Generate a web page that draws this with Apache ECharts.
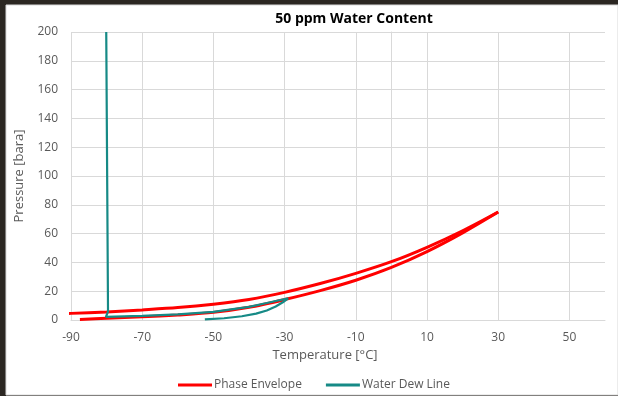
<!DOCTYPE html>
<html>
<head>
<meta charset="utf-8">
<script src="https://cdn.jsdelivr.net/npm/echarts@6/dist/echarts.min.js"></script>
<style>
html,body{margin:0;padding:0;background:#2b2722;}
#chart{width:618px;height:396px;}
</style>
</head>
<body>
<div id="chart"></div>
<script>
// phase envelope, upper branch (T degC, P bara)
var upperT = [-92, -90, -80, -70, -60, -50, -40, -30, -20, -10, 0, 10, 20, 30];
var upperP = [4.4, 4.6, 5.6, 7.0, 8.6, 11.0, 14.3, 19.2, 25.3, 32.4, 40.5, 50.5, 62.0, 75.0];
// phase envelope, lower branch
var lowerT = [-87.5, -80, -70, -60, -50, -40, -30, -20, -10, 0, 10, 20, 30];
var lowerP = [0.4, 1.2, 2.2, 3.5, 5.3, 8.8, 14.2, 20.4, 27.6, 36.5, 47.5, 60.5, 75.0];
// water dew line
var dewT = [-80.1, -79.6, -80.2, -70, -60, -50, -40, -35, -29,
            -30.5, -32.5, -35, -38, -42, -47, -52.4];
var dewP = [200, 5.8, 2.2, 2.8, 3.9, 5.6, 9.1, 11.8, 15.1,
            12.3, 9.4, 6.6, 4.4, 2.6, 1.2, 0.5];

var xTicks = [-90, 60, 20];
var yTicks = [0, 200, 20];

function pairs(xs, ys) {
    return xs.map(function (x, i) { return [x, ys[i]]; });
}

var myChart = echarts.init(document.getElementById('chart'));
var txt = '#595959';
var option = {
    backgroundColor: '#2b2722',
    animation: false,
    graphic: [{
        type: 'rect', z: -10, silent: true,
        shape: {x: 6, y: 5, width: 612, height: 390},
        style: {fill: '#ffffff', stroke: '#d9d9d9', lineWidth: 1}
    }],
    title: {
        text: '50 ppm Water Content',
        left: 349, top: 7, textAlign: 'center',
        textStyle: {fontFamily: 'Open Sans', fontSize: 14, fontWeight: 'bold', color: '#000'}
    },
    legend: {
        data: ['Phase Envelope', 'Water Dew Line'],
        left: 173, top: 374,
        icon: 'rect', itemWidth: 34, itemHeight: 3, itemGap: 24,
        textStyle: {fontFamily: 'Open Sans', fontSize: 12, color: txt, padding: [0, 0, 0, -3]}
    },
    grid: {left: 71, right: 13, top: 32, bottom: 76},
    xAxis: {
        type: 'value',
        min: xTicks[0], max: xTicks[1], interval: xTicks[2],
        name: 'Temperature [°C]', nameLocation: 'middle', nameGap: 27,
        nameTextStyle: {fontFamily: 'Open Sans', fontSize: 13, color: txt, padding: [0, 26, 0, 0]},
        axisLine: {show: true, onZero: false, lineStyle: {color: '#d9d9d9'}},
        axisTick: {show: false},
        axisLabel: {fontFamily: 'Open Sans', fontSize: 12, color: txt, margin: 12, showMaxLabel: false},
        splitLine: {show: true, showMaxLine: false, lineStyle: {color: '#d9d9d9'}}
    },
    yAxis: {
        type: 'value',
        min: yTicks[0], max: yTicks[1], interval: yTicks[2],
        name: 'Pressure [bara]', nameLocation: 'middle', nameGap: 45, nameRotate: 90,
        nameTextStyle: {fontFamily: 'Open Sans', fontSize: 13, color: txt},
        axisLine: {show: true, lineStyle: {color: '#d9d9d9'}},
        axisTick: {show: false},
        axisLabel: {fontFamily: 'Open Sans', fontSize: 12, color: txt, margin: 13},
        splitLine: {show: true, lineStyle: {color: '#d9d9d9'}}
    },
    series: [
        {
            name: 'Phase Envelope', type: 'line', symbol: 'none', smooth: 0.3,
            data: pairs(upperT, upperP),
            color: '#ff0000', lineStyle: {width: 3, color: '#ff0000'}
        },
        {
            name: 'Phase Envelope', type: 'line', symbol: 'none', smooth: 0.3,
            data: pairs(lowerT, lowerP),
            color: '#ff0000', lineStyle: {width: 3, color: '#ff0000'}
        },
        {
            name: 'Water Dew Line', type: 'line', symbol: 'none',
            data: pairs(dewT, dewP),
            color: '#168a86', lineStyle: {width: 2.2, color: '#168a86'}
        }
    ]
};
myChart.setOption(option);
</script>
</body>
</html>
